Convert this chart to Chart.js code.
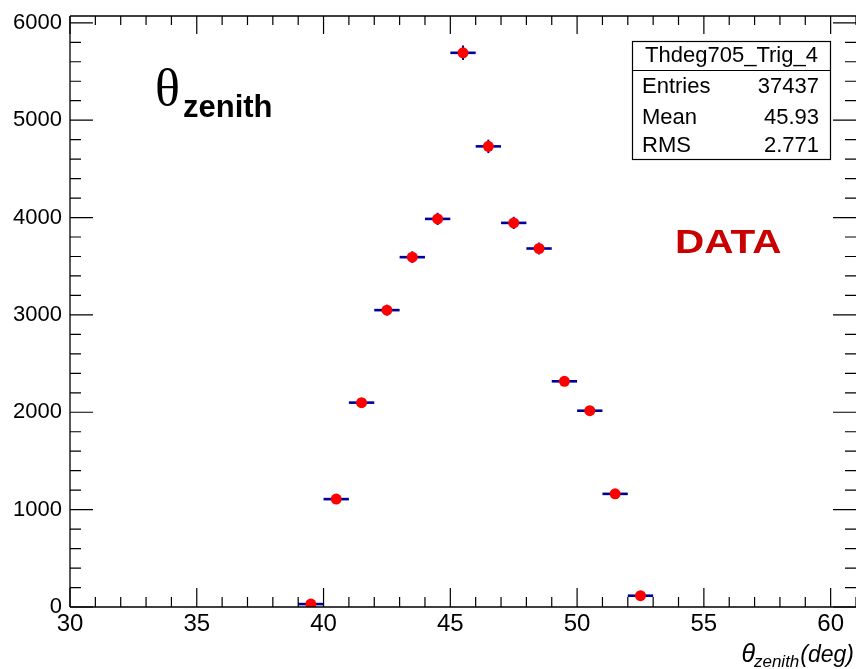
<!DOCTYPE html>
<html>
<head>
<meta charset="utf-8">
<script src="https://cdn.jsdelivr.net/npm/chart.js@4"></script>
<style>
html,body{margin:0;padding:0;background:#fff;}
#c{display:block;}
</style>
</head>
<body>
<canvas id="c" width="856" height="669"></canvas>
<script>
// ---- data ----
const binCenters = [39.5, 40.5, 41.5, 42.5, 43.5, 44.5, 45.5, 46.5, 47.5, 48.5, 49.5, 50.5, 51.5, 52.5];
const counts     = [30, 1108, 2099, 3049, 3593, 3986, 5692, 4731, 3945, 3682, 2318, 2016, 1162, 116];
const countErrs  = [5, 33, 46, 55, 60, 63, 75, 69, 63, 61, 48, 45, 34, 11];
const binWidth = 1;
const xTicks = [30, 35, 40, 45, 50, 55, 60];
const yTicks = [0, 1000, 2000, 3000, 4000, 5000, 6000];
const xRange = [30, 61];
const yRange = [0, 6070];
const statsTitle = 'Thdeg705_Trig_4';
const statsLabels = ['Entries', 'Mean', 'RMS'];
const statsValues = ['37437', '45.93', '2.771'];

const points = binCenters.map((x, i) => ({x: x, y: counts[i]}));

const rootPlugin = {
  id: 'rootPlugin',
  beforeDatasetsDraw(chart) {
    const ctx = chart.ctx, xs = chart.scales.x, ys = chart.scales.y;
    ctx.save();
    ctx.strokeStyle = '#000099';
    binCenters.forEach((c, i) => {
      const v = counts[i], e = countErrs[i];
      const px = xs.getPixelForValue(c), py = ys.getPixelForValue(v);
      ctx.lineWidth = 2.6;
      ctx.beginPath();
      ctx.moveTo(xs.getPixelForValue(c - binWidth / 2), py);
      ctx.lineTo(xs.getPixelForValue(c + binWidth / 2), py);
      ctx.stroke();
      ctx.lineWidth = 2;
      ctx.beginPath();
      ctx.moveTo(px, ys.getPixelForValue(v - e));
      ctx.lineTo(px, ys.getPixelForValue(v + e));
      ctx.stroke();
    });
    ctx.restore();
  },
  afterDraw(chart) {
    const ctx = chart.ctx, xs = chart.scales.x, ys = chart.scales.y;
    const a = chart.chartArea;
    ctx.save();
    ctx.strokeStyle = '#000';
    ctx.lineWidth = 1.3;
    // frame (left, top, bottom)
    ctx.beginPath();
    ctx.moveTo(a.left, a.top); ctx.lineTo(a.left, a.bottom);
    ctx.moveTo(a.left, a.top); ctx.lineTo(a.right, a.top);
    ctx.moveTo(a.left, a.bottom); ctx.lineTo(a.right, a.bottom);
    ctx.stroke();
    ctx.lineWidth = 1.2;
    // x ticks (bottom and top)
    for (let v = xRange[0]; v <= xRange[1]; v += 1) {
      const p = xs.getPixelForValue(v);
      const major = v % 5 === 0;
      const lb = major ? 19 : 10, lt = major ? 18 : 9;
      ctx.beginPath();
      ctx.moveTo(p, a.bottom); ctx.lineTo(p, a.bottom - lb);
      ctx.moveTo(p, a.top); ctx.lineTo(p, a.top + lt);
      ctx.stroke();
    }
    // y ticks (left and right)
    for (let v = yRange[0]; v <= yRange[1]; v += 200) {
      const p = ys.getPixelForValue(v);
      const major = v % 1000 === 0;
      const l = major ? 23 : 11;
      ctx.beginPath();
      ctx.moveTo(a.left, p); ctx.lineTo(a.left + l, p);
      ctx.moveTo(a.right, p); ctx.lineTo(a.right - l, p);
      ctx.stroke();
    }
    // stats box
    const bx = 632.5, by = 41.5, bw = 198, bh = 118;
    ctx.fillStyle = '#fff';
    ctx.fillRect(bx, by, bw, bh);
    ctx.lineWidth = 1.2;
    ctx.strokeRect(bx, by, bw, bh);
    ctx.beginPath();
    ctx.moveTo(bx, 70.5); ctx.lineTo(bx + bw, 70.5);
    ctx.stroke();
    ctx.fillStyle = '#000';
    ctx.font = '22px "Liberation Sans", Arial, sans-serif';
    ctx.textBaseline = 'alphabetic';
    ctx.textAlign = 'center';
    ctx.fillText(statsTitle, bx + bw / 2, 62);
    const rowY = [93, 123.5, 152];
    statsLabels.forEach((l, i) => {
      ctx.textAlign = 'left';
      ctx.fillText(l, 642, rowY[i]);
      ctx.textAlign = 'right';
      ctx.fillText(statsValues[i], 819, rowY[i]);
    });
    // big theta_zenith label
    ctx.textAlign = 'left';
    ctx.font = '52px "Liberation Serif", "Times New Roman", serif';
    ctx.fillText('\u03B8', 155, 105);
    ctx.font = 'bold 31px "Liberation Sans", Arial, sans-serif';
    ctx.fillText('zenith', 183, 116.5);
    // DATA
    ctx.save();
    ctx.fillStyle = '#c80000';
    ctx.font = 'bold 34px "Liberation Sans", Arial, sans-serif';
    ctx.translate(675, 253);
    ctx.scale(1.19, 1);
    ctx.fillText('DATA', 0, 0);
    ctx.restore();
    // x axis title: theta_zenith(deg), right aligned
    ctx.fillStyle = '#000';
    const f1 = 'italic 23px "Liberation Sans", Arial, sans-serif';
    const f2 = 'italic 17px "Liberation Sans", Arial, sans-serif';
    const f0 = 'italic 25px "Liberation Sans", Arial, sans-serif';
    ctx.textAlign = 'left';
    ctx.font = f1; const wDeg = ctx.measureText('(deg)').width;
    const xDeg = 854 - wDeg;
    ctx.fillText('(deg)', xDeg, 662);
    ctx.font = f2; const wSub = ctx.measureText('zenith').width;
    const xSub = xDeg - wSub - 1;
    ctx.fillText('zenith', xSub, 667);
    ctx.font = f0; const wTh = ctx.measureText('\u03B8').width;
    ctx.fillText('\u03B8', xSub - wTh + 1, 662);
    ctx.restore();
  }
};

new Chart(document.getElementById('c'), {
  type: 'scatter',
  data: {
    datasets: [{
      data: points,
      pointRadius: 5.5,
      pointHoverRadius: 5.5,
      pointBackgroundColor: '#ff0000',
      pointBorderWidth: 0,
      borderWidth: 0,
      showLine: false
    }]
  },
  options: {
    responsive: false,
    animation: false,
    devicePixelRatio: 1,
    events: [],
    layout: {autoPadding: false, padding: {top: 16, right: 0, left: 0, bottom: 0}},
    plugins: {legend: {display: false}, tooltip: {enabled: false}, title: {display: false}},
    scales: {
      x: {
        type: 'linear', min: xRange[0], max: xRange[1],
        grid: {display: false, drawTicks: false},
        border: {display: false},
        afterBuildTicks(s) { s.ticks = xTicks.map(v => ({value: v})); },
        afterFit(s) { s.height = 62; s.paddingLeft = 0; s.paddingRight = 0; },
        ticks: {
          autoSkip: false, maxRotation: 0, padding: 3, color: '#000',
          callback: v => String(v),
          font: {family: '"Liberation Sans", Arial, sans-serif', size: 24}
        }
      },
      y: {
        type: 'linear', min: yRange[0], max: yRange[1],
        grid: {display: false, drawTicks: false},
        border: {display: false},
        afterBuildTicks(s) { s.ticks = yTicks.map(v => ({value: v})); },
        afterFit(s) { s.width = 70; s.paddingTop = 0; s.paddingBottom = 0; },
        ticks: {
          autoSkip: false, padding: 8, color: '#000',
          callback: v => String(v),
          font: {family: '"Liberation Sans", Arial, sans-serif', size: 22}
        }
      }
    }
  },
  plugins: [rootPlugin]
});
</script>
</body>
</html>
